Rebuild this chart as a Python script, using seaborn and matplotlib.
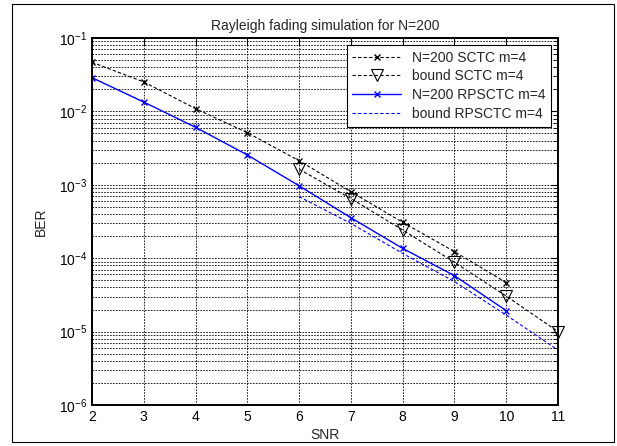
import numpy as np
import pandas as pd
import matplotlib
matplotlib.use('Agg')
import matplotlib.pyplot as plt
from matplotlib.ticker import LogLocator, FixedLocator
import seaborn as sns

sns.set_style('white')
plt.rcParams['font.family'] = ['Liberation Sans', 'DejaVu Sans']
plt.rcParams['mathtext.fontset'] = 'custom'
plt.rcParams['mathtext.rm'] = 'Liberation Sans'
plt.rcParams['mathtext.it'] = 'Liberation Sans'

snr_sim = [2, 3, 4, 5, 6, 7, 8, 9, 10]
ber_sctc = [0.0467, 0.0252, 0.0109, 0.00513, 0.00213, 8.05e-4, 3.08e-4, 1.23e-4, 4.65e-5]
ber_rpsctc = [0.0288, 0.0134, 0.00607, 0.00255, 9.7e-4, 3.56e-4, 1.36e-4, 5.78e-5, 1.93e-5]

snr_bound = [6, 7, 8, 9, 10, 11]
bound_sctc = [1.63e-3, 6.5e-4, 2.42e-4, 8.8e-5, 3.05e-5, 1.0e-5]
bound_rpsctc = [6.9e-4, 2.98e-4, 1.16e-4, 4.8e-5, 1.68e-5, 5.6e-6]

labels = ['N=200 SCTC m=4', 'bound SCTC m=4', 'N=200 RPSCTC m=4', 'bound RPSCTC m=4']

fig = plt.figure(figsize=(6.17, 4.46), dpi=100)
ax = fig.add_axes([92/617, 41/446, 466/617, 367/446])

dash = (0, (3, 2))
sns.lineplot(x=snr_sim, y=ber_sctc, ax=ax, color='black', lw=0.8, linestyle=dash,
             marker='x', markersize=5, markeredgewidth=1, markeredgecolor='black',
             label=labels[0])
sns.lineplot(x=snr_bound, y=bound_sctc, ax=ax, color='black', lw=0.8, linestyle=dash,
             marker='v', markersize=9, markerfacecolor='none', markeredgecolor='black',
             markeredgewidth=0.8, clip_on=False, label=labels[1])
sns.lineplot(x=snr_sim, y=ber_rpsctc, ax=ax, color='#0000ff', lw=1.0, linestyle='-',
             marker='x', markersize=5, markeredgewidth=1, markeredgecolor='#0000ff',
             label=labels[2])
sns.lineplot(x=snr_bound, y=bound_rpsctc, ax=ax, color='#0000ff', lw=0.8, linestyle=dash,
             label=labels[3])

ax.set_yscale('log')
ax.set_xlim(2, 11)
ax.set_ylim(1e-6, 1e-1)
ax.xaxis.set_major_locator(FixedLocator(range(2, 12)))
ax.yaxis.set_major_locator(LogLocator(base=10, numticks=10))
ax.yaxis.set_minor_locator(LogLocator(base=10, subs=np.arange(2, 10), numticks=20))

grid_kw = dict(color='black', linestyle=(0, (2, 1.5)), linewidth=0.6, alpha=1.0)
ax.grid(True, which='major', axis='both', **grid_kw)
ax.grid(True, which='minor', axis='y', **grid_kw)
ax.set_axisbelow(True)

ax.tick_params(which='both', direction='in', top=True, right=True, labelsize=10,
               colors='black')
ax.tick_params(which='major', length=5, width=0.8)
ax.tick_params(which='minor', length=3, width=0.6)
for s in ax.spines.values():
    s.set_linewidth(1.4)
    s.set_color('black')

ax.set_xlabel('SNR', fontsize=10, labelpad=3)
ax.set_ylabel('BER', fontsize=10, labelpad=8)
ax.set_title('Rayleigh fading simulation for N=200', fontsize=10, pad=6)

leg = ax.legend(loc='upper right', fontsize=10, frameon=True, fancybox=False,
                edgecolor='black', framealpha=1, handlelength=3.5,
                borderaxespad=0.5, labelspacing=0.35)
leg.get_frame().set_linewidth(0.8)

# figure border
fig.patches.append(plt.Rectangle((12/617, 4/446), 602/617, 438/446, transform=fig.transFigure,
                                 fill=False, edgecolor='black', linewidth=0.8))

fig.savefig('out.png', dpi=100)
